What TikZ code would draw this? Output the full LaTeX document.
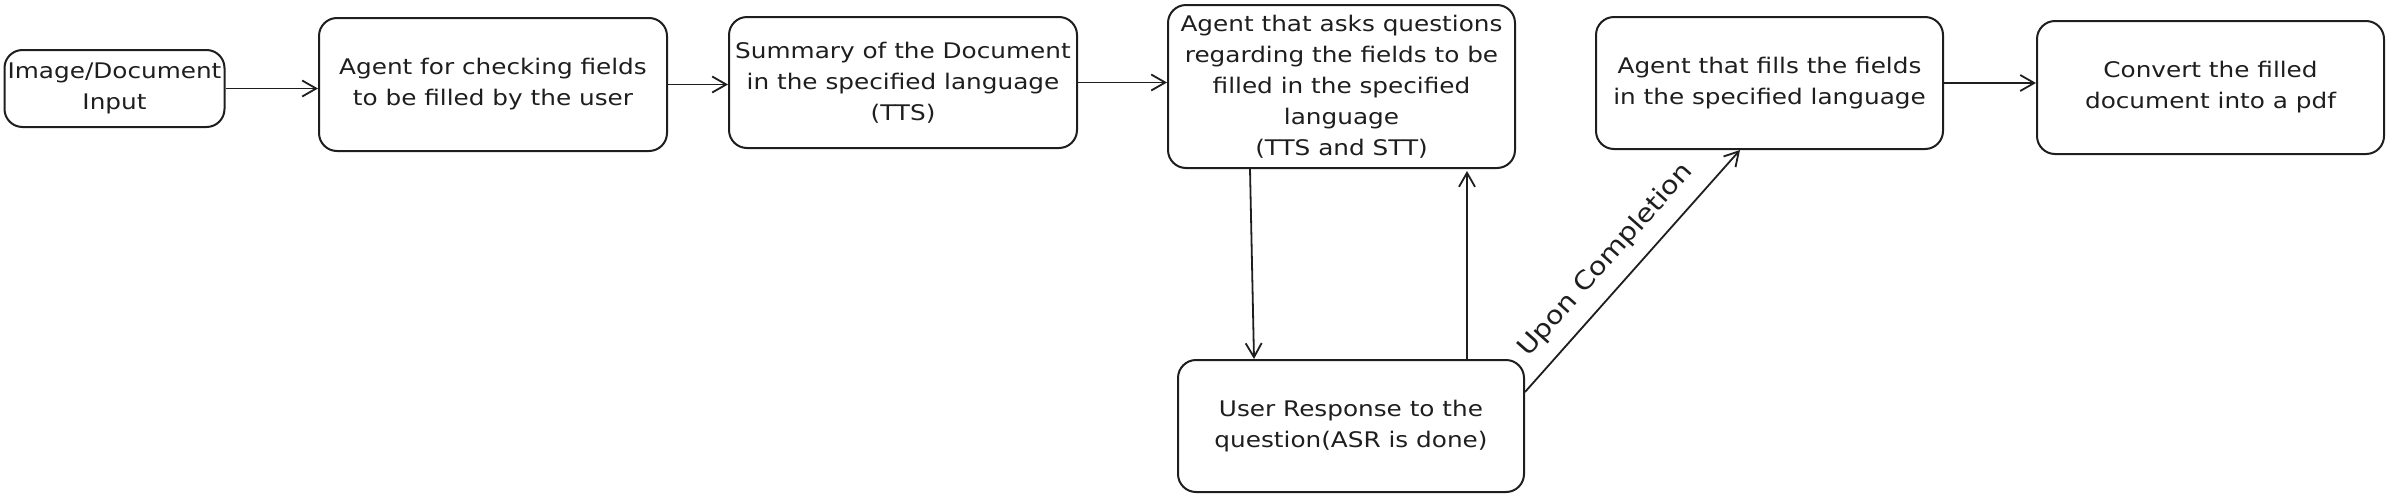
\documentclass[tikz,border=0pt]{standalone}
\usepackage{fontspec}
\setmainfont{DejaVu Sans}[FakeStretch=1.15]
\usetikzlibrary{arrows.meta,calc}
\definecolor{ink}{HTML}{1E1E1E}
\tikzset{
  box/.style={draw=ink, line width=2pt, rounded corners=18pt, align=center,
    text=ink, inner sep=0pt, font=\fontsize{21.5}{31}\selectfont},
  conn/.style={draw=ink, line width=1.8pt,
    -{Straight Barb[length=14pt,width=16pt,line width=1.8pt]}},
  lbl/.style={text=ink, font=\fontsize{25}{30}\selectfont, inner sep=0pt}
}
\begin{document}
\begin{tikzpicture}[x=1pt,y=-1pt]
\useasboundingbox (0,0) rectangle (2395,501);
\node[box, minimum width=220pt, minimum height=77pt] (b1) at (114.5,88.5) {Image/Document\\Input};
\node[box, minimum width=348pt, minimum height=133pt] (b2) at (493,84.5) {Agent for checking fields\\to be filled by the user};
\node[box, minimum width=348pt, minimum height=131pt] (b3) at (903,82.5) {Summary of the Document\\in the specified language\\(TTS)};
\node[box, minimum width=347pt, minimum height=163pt] (b4) at (1341.5,86.5) {Agent that asks questions\\regarding the fields to be\\filled in the specified\\language\\(TTS and STT)};
\node[box, minimum width=347pt, minimum height=132pt] (b5) at (1769.5,83) {Agent that fills the fields\\in the specified language};
\node[box, minimum width=347pt, minimum height=133pt] (b6) at (2210.5,87.5) {Convert the filled\\document into a pdf};
\node[box, minimum width=346pt, minimum height=132pt] (b7) at (1351,426) {User Response to the\\question(ASR is done)};

\draw[conn] (b1.east) -- (b1.east -| b2.west);
\draw[conn] (b2.east) -- (b2.east -| b3.west);
\draw[conn] (b3.east) -- (b3.east -| b4.west);
\draw[conn] (b5.east) -- (b5.east -| b6.west);
\draw[conn] ($(b4.south west)+(83,0)$) -- ($(b7.north west)+(77,0)$);
\draw[conn] ($(b7.north west)+(290,0)$) -- ($(b4.south west)+(300,2)$);
\draw[conn] ($(b7.north east)+(0,33)$) -- node[lbl, sloped, above=14pt, pos=0.47] {Upon Completion} ($(b5.south west)+(145,0)$);
\end{tikzpicture}
\end{document}
